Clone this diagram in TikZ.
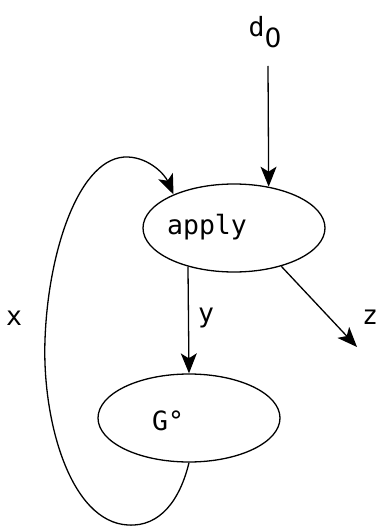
\documentclass[tikz,border=0pt]{standalone}
\usepackage{fontspec}
\setmonofont{DejaVu Sans Mono}
\newfontfamily\digitfont{DejaVu Sans}
\usetikzlibrary{shapes.geometric,arrows.meta}
\begin{document}
\begin{tikzpicture}[x=1bp,y=-1bp,
  ell/.style={draw,ellipse,line width=1.3bp,minimum width=182bp,minimum height=88bp,inner sep=0pt},
  lab/.style={font=\ttfamily\fontsize{26.5bp}{30bp}\selectfont,inner sep=0pt},
  conn/.style={line width=1.3bp,-{Stealth[length=20bp,width=16bp,inset=5bp]}}]
\useasboundingbox (0,0) rectangle (377,527);
\node[ell] (apply) at (234,228) {};
\node[lab] (applytxt) at (207,227) {apply};
\node[ell] (G) at (189,418) {};
\node[lab] (Gtxt) at (168,421) {G°};
\node[lab] (d0) at (265,32) {d\raisebox{-11bp}{\digitfont 0}};
\coordinate (d0end) at (268,66);
\coordinate (zend) at (357,347);
\node[lab] (xlab) at (14,318) {x};
\node[lab] (ylab) at (206,318) {y};
\node[lab] (zlab) at (370,317) {z};
\draw[conn] (d0end) -- (apply.50);
\draw[conn] (apply.220) -- (G.north);
\draw[conn] (apply.-39) -- (zend);
\draw[conn] (G.south) .. controls (180,500) and (160,527) .. (128,525)
  .. controls (70,522) and (42,420) .. (45,340)
  .. controls (48,250) and (80,155) .. (128,157)
  .. controls (150,158) and (165,175) .. (apply.151);
\end{tikzpicture}
\end{document}
